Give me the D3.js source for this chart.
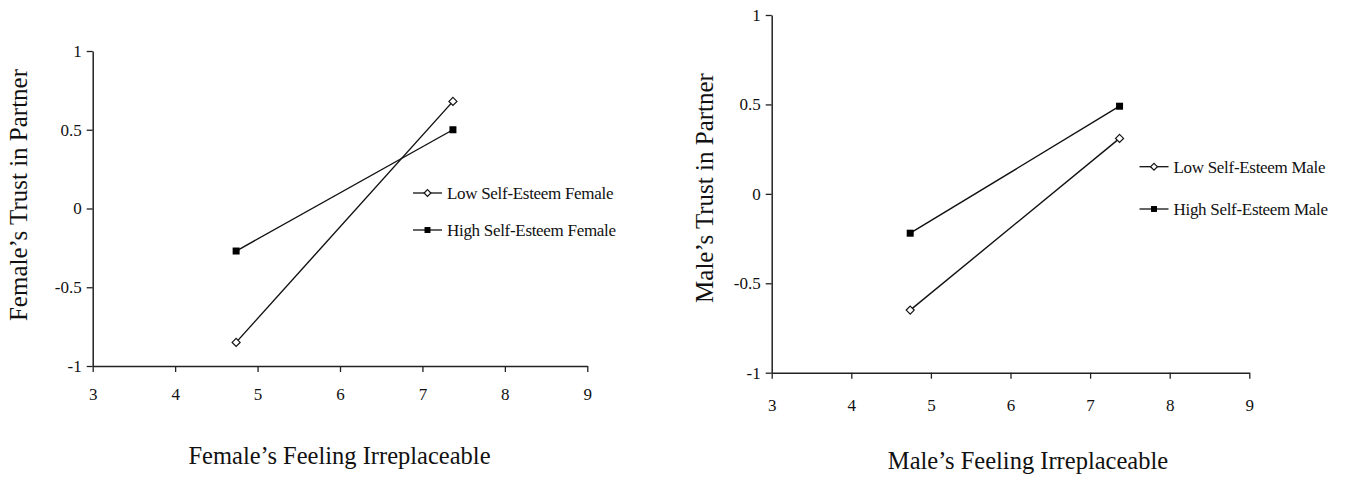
<!DOCTYPE html>
<html>
<head>
<meta charset="utf-8">
<script src="https://cdn.jsdelivr.net/npm/d3@7"></script>
<style>
    body { margin: 0; background: #fff; }
    text { font-family: "Liberation Serif", "Times New Roman", serif; fill: #111; }
</style>
</head>
<body>
<div id="chart"></div>
<script>
// Data
const xLevels = [4.74, 7.37];
const femaleLow = [-0.85, 0.68];
const femaleHigh = [-0.27, 0.50];
const maleLow = [-0.65, 0.31];
const maleHigh = [-0.22, 0.49];

const xTicks = [3, 4, 5, 6, 7, 8, 9];
const yTicks = [-1, -0.5, 0, 0.5, 1];
const yTickLabels = ['-1', '-0.5', '0', '0.5', '1'];

const femaleLegend = ['Low Self-Esteem Female', 'High Self-Esteem Female'];
const maleLegend = ['Low Self-Esteem Male', 'High Self-Esteem Male'];

const svg = d3.select('#chart')
    .append('svg')
    .attr('width', 1353)
    .attr('height', 479);

function drawPanel(p) {
    const x = d3.scaleLinear().domain([3, 9]).range([p.left, p.right]);
    const y = d3.scaleLinear().domain([-1, 1]).range([p.bottom, p.top]);

    const g = svg.append('g');

    // Axes
    const yAxis = d3.axisLeft(y)
        .tickValues(yTicks)
        .tickFormat((d, i) => yTickLabels[i])
        .tickSize(6)
        .tickSizeOuter(0)
        .tickPadding(5);

    const xAxis = d3.axisBottom(x)
        .tickValues(xTicks)
        .tickFormat(d3.format('d'))
        .tickSize(6)
        .tickSizeOuter(0)
        .tickPadding(p.xPad);

    const yG = g.append('g').attr('transform', `translate(${p.left},0)`).call(yAxis);
    const xG = g.append('g').attr('transform', `translate(0,${p.bottom})`).call(xAxis);

    [yG, xG].forEach(a => {
        a.attr('font-family', '"Liberation Serif", serif').attr('font-size', 17);
        a.select('.domain').attr('stroke', '#222').attr('stroke-width', 1.5);
        a.selectAll('.tick line').attr('stroke', '#222').attr('stroke-width', 1.3);
        a.selectAll('.tick text')
            .attr('font-family', '"Liberation Serif", serif')
            .attr('font-size', 17)
            .attr('fill', '#111');
    });

    // Lines
    const line = d3.line()
        .x((d, i) => x(xLevels[i]))
        .y(d => y(d));

    const series = [
        { values: p.low, filled: false },
        { values: p.high, filled: true }
    ];

    series.forEach(s => {
        g.append('path')
            .attr('d', line(s.values))
            .attr('fill', 'none')
            .attr('stroke', '#111')
            .attr('stroke-width', 1.4);

        s.values.forEach((v, i) => {
            marker(g, x(xLevels[i]), y(v), s.filled, 1);
        });
    });

    // Legend
    p.legend.forEach((label, i) => {
        const ly = p.legendY[i];
        g.append('line')
            .attr('x1', p.legendX)
            .attr('x2', p.legendX + 29)
            .attr('y1', ly)
            .attr('y2', ly)
            .attr('stroke', '#111')
            .attr('stroke-width', 1.3);
        marker(g, p.legendX + 14.5, ly, i === 1, 0.85);
        g.append('text')
            .attr('x', p.legendX + 34)
            .attr('y', ly)
            .attr('dy', '0.35em')
            .style('font-size', '17px')
            .style('letter-spacing', '-0.3px')
            .text(label);
    });

    // Axis titles
    g.append('text')
        .attr('x', p.xTitleX)
        .attr('y', p.xTitleY)
        .attr('text-anchor', 'middle')
        .style('font-size', '24.5px')
        .text(p.xTitle);

    g.append('text')
        .attr('transform', `translate(${p.yTitleX},${p.yTitleY}) rotate(-90)`)
        .attr('text-anchor', 'middle')
        .style('font-size', '25px')
        .text(p.yTitle);
}

function marker(g, cx, cy, filled, k) {
    if (filled) {
        const s = 7 * k;
        g.append('rect')
            .attr('x', cx - s / 2)
            .attr('y', cy - s / 2)
            .attr('width', s)
            .attr('height', s)
            .attr('fill', '#000');
    } else {
        const r = 4 * k;
        g.append('path')
            .attr('d', `M${cx},${cy - r}L${cx + r},${cy}L${cx},${cy + r}L${cx - r},${cy}Z`)
            .attr('fill', '#fff')
            .attr('stroke', '#111')
            .attr('stroke-width', 1.2);
    }
}

drawPanel({
    left: 92.7, right: 587.3, top: 51, bottom: 366, xPad: 16,
    low: femaleLow, high: femaleHigh, legend: femaleLegend,
    legendX: 413, legendY: [193, 230],
    xTitle: 'Female\u2019s Feeling Irreplaceable', xTitleX: 339.5, xTitleY: 464,
    yTitle: 'Female\u2019s Trust in Partner', yTitleX: 26.5, yTitleY: 195
});

drawPanel({
    left: 771.7, right: 1249.3, top: 15, bottom: 372.7, xPad: 20,
    low: maleLow, high: maleHigh, legend: maleLegend,
    legendX: 1139.5, legendY: [166.7, 209],
    xTitle: 'Male\u2019s Feeling Irreplaceable', xTitleX: 1028, xTitleY: 469,
    yTitle: 'Male\u2019s Trust in Partner', yTitleX: 713, yTitleY: 188
});
</script>
</body>
</html>
